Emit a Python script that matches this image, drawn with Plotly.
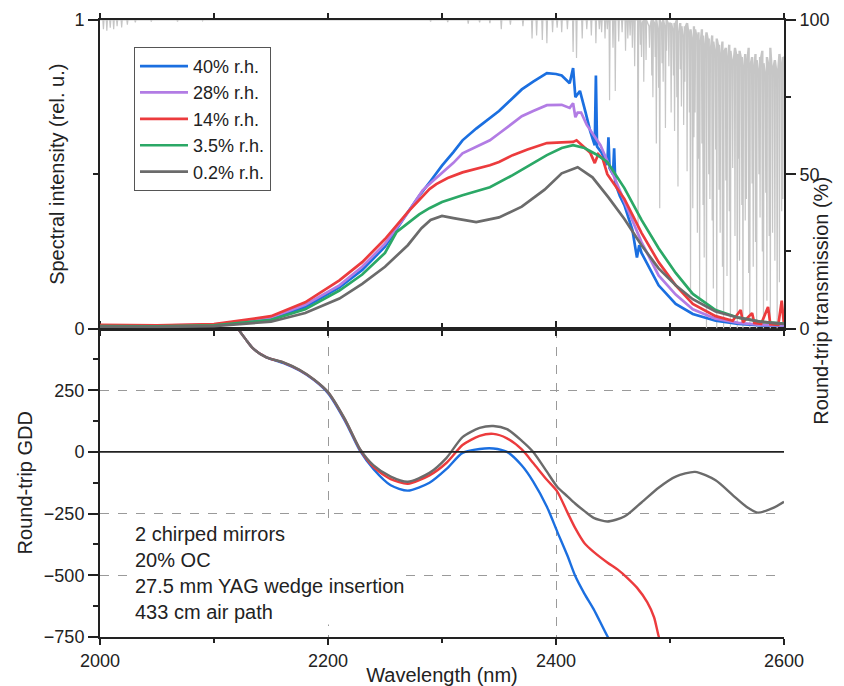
import plotly.graph_objects as go

# ---------------- data ----------------
labels = ["40% r.h.", "28% r.h.", "14% r.h.", "3.5% r.h.", "0.2% r.h."]
colors = ["#1b6fe0", "#b27ce4", "#ec3b3d", "#2ba866", "#6b6b6b"]

wl_blue = [2000, 2050, 2100, 2150, 2180, 2210, 2230, 2250, 2270, 2280, 2290, 2300, 2310, 2318, 2330, 2342, 2350,
           2360, 2370, 2380, 2392, 2400, 2405, 2412, 2415, 2417, 2421, 2426, 2430, 2434, 2435, 2436, 2440, 2445,
           2446, 2447, 2450, 2451, 2452, 2456, 2460, 2467, 2471, 2473, 2475, 2490, 2505, 2520, 2540, 2560, 2580, 2600]
int_blue = [0.010, 0.008, 0.012, 0.032, 0.070, 0.133, 0.190, 0.265, 0.377, 0.430, 0.478, 0.528, 0.572, 0.610, 0.648,
            0.682, 0.705, 0.740, 0.775, 0.800, 0.828, 0.825, 0.820, 0.795, 0.844, 0.750, 0.770, 0.700, 0.640, 0.594,
            0.820, 0.590, 0.570, 0.530, 0.620, 0.520, 0.500, 0.584, 0.470, 0.430, 0.400, 0.320, 0.230, 0.270, 0.245,
            0.140, 0.080, 0.047, 0.025, 0.015, 0.010, 0.010]

wl_purple = [2000, 2050, 2100, 2150, 2180, 2210, 2230, 2250, 2270, 2283, 2290, 2300, 2310, 2318, 2330, 2342, 2350,
             2360, 2370, 2380, 2392, 2405, 2412, 2415, 2417, 2419, 2422, 2427, 2439, 2450, 2460, 2475, 2490, 2505,
             2520, 2540, 2560, 2580, 2600]
int_purple = [0.010, 0.009, 0.013, 0.036, 0.077, 0.140, 0.200, 0.275, 0.375, 0.448, 0.472, 0.505, 0.537, 0.568, 0.590,
              0.610, 0.632, 0.660, 0.688, 0.705, 0.724, 0.725, 0.715, 0.730, 0.685, 0.700, 0.700, 0.660, 0.594, 0.500,
              0.410, 0.280, 0.172, 0.110, 0.062, 0.032, 0.018, 0.012, 0.010]

wl_red = [2000, 2050, 2100, 2150, 2180, 2210, 2230, 2250, 2270, 2280, 2289, 2295, 2305, 2318, 2330, 2342, 2350, 2362,
          2375, 2392, 2405, 2415, 2418, 2425, 2430, 2434, 2437, 2441, 2445, 2460, 2475, 2490, 2505, 2520, 2540, 2555,
          2562, 2564, 2572, 2574, 2580, 2586, 2588, 2595, 2598, 2600]
int_red = [0.012, 0.010, 0.014, 0.040, 0.085, 0.156, 0.215, 0.290, 0.377, 0.418, 0.452, 0.468, 0.488, 0.506, 0.518,
           0.529, 0.540, 0.562, 0.580, 0.601, 0.603, 0.605, 0.610, 0.588, 0.570, 0.536, 0.565, 0.550, 0.500, 0.420,
           0.310, 0.215, 0.140, 0.080, 0.040, 0.025, 0.060, 0.020, 0.050, 0.018, 0.015, 0.070, 0.014, 0.012, 0.090,
           0.012]

wl_green = [2000, 2050, 2100, 2150, 2180, 2210, 2230, 2250, 2260, 2270, 2280, 2289, 2300, 2318, 2330, 2342, 2362,
            2375, 2392, 2405, 2415, 2425, 2435, 2445, 2460, 2475, 2490, 2505, 2520, 2540, 2560, 2580, 2600]
int_green = [0.008, 0.007, 0.010, 0.028, 0.062, 0.123, 0.175, 0.245, 0.312, 0.342, 0.370, 0.390, 0.410, 0.432, 0.445,
             0.458, 0.497, 0.525, 0.562, 0.585, 0.594, 0.585, 0.565, 0.540, 0.455, 0.352, 0.260, 0.180, 0.112, 0.060,
             0.035, 0.022, 0.016]

wl_gray = [2000, 2050, 2100, 2150, 2180, 2210, 2230, 2250, 2270, 2282, 2290, 2300, 2310, 2330, 2350, 2370, 2390, 2405,
           2419, 2432, 2446, 2460, 2475, 2490, 2505, 2520, 2540, 2560, 2580, 2600]
int_gray = [0.006, 0.005, 0.008, 0.022, 0.050, 0.097, 0.145, 0.200, 0.270, 0.325, 0.352, 0.365, 0.358, 0.345, 0.360,
            0.395, 0.450, 0.503, 0.523, 0.490, 0.425, 0.355, 0.270, 0.195, 0.140, 0.095, 0.055, 0.035, 0.022, 0.015]

# atmospheric round-trip transmission: absorption lines (centre nm, minimum %, local top %)
line_wl = [2003, 2006, 2009, 2012, 2015, 2019, 2024, 2031, 2045, 2068, 2090,
           2290, 2305, 2323, 2333, 2342, 2352, 2360, 2371, 2379, 2383, 2388, 2392, 2397, 2401, 2405, 2410,
           2415, 2418, 2423, 2427, 2431,
           2435, 2438, 2440, 2443, 2445, 2447, 2450, 2452, 2455, 2458, 2461, 2463, 2465, 2467, 2469, 2472,
           2474, 2475, 2477, 2479, 2482, 2484, 2485, 2487, 2488, 2490, 2491, 2493, 2494, 2496, 2497, 2499,
           2501, 2503, 2504, 2506, 2507, 2509, 2510, 2512, 2513, 2515, 2517, 2518, 2520, 2521, 2522, 2524,
           2525, 2526, 2528, 2529, 2530, 2532, 2534, 2535, 2537, 2538, 2540, 2541, 2543, 2544, 2546, 2547,
           2549, 2550, 2552, 2553, 2555, 2557, 2559, 2560, 2561, 2563, 2564, 2566, 2567, 2569, 2570, 2572,
           2573, 2575, 2576, 2578, 2579, 2581, 2582, 2584, 2585, 2587, 2588, 2590, 2592, 2594, 2596, 2598, 2599]
line_min = [97, 96.5, 97.5, 97, 98, 97.6, 98.5, 99.2, 99.5, 99.5, 99.7,
            99.5, 99.3, 98.8, 99.2, 99, 97, 98.5, 98, 94, 95, 93.5, 92.5, 96, 97.5, 96, 97,
            89.6, 87.7, 94, 97, 95,
            92.5, 97, 96, 94, 97, 74, 91, 77, 93, 96, 90, 94, 95, 91, 85, 32,
            92, 88, 80, 87, 91, 82, 75, 88, 60, 78, 39, 86, 80, 65, 90, 85,
            70, 82, 64, 75, 46, 84, 72, 66, 80, 51, 70, 11, 39, 62, 70, 31,
            55, 9, 60, 40, 23, 0, 50, 42, 35, 13, 58, 0, 45, 31, 20, 0,
            48, 17, 38, 0, 52, 30, 0, 55, 22, 40, 0, 35, 42, 18, 0, 47,
            20, 28, 0, 50, 36, 25, 0, 44, 9, 30, 0, 31, 22, 0, 15, 38, 42]
line_top = [100] * 11 + [100] * 16 + [100] * 5 + \
           [100] * 16 + \
           [100, 99, 100, 100, 98, 100, 100, 99, 100, 97, 100, 99, 100, 98, 100, 99] + \
           [99, 97, 99, 100, 96, 99, 98, 95, 98, 99, 96, 97, 94, 98, 97, 95] + \
           [96, 93, 97, 95, 92, 96, 94, 91, 95, 93, 90, 94, 92, 89, 93, 90] + \
           [91, 88, 92, 90, 87, 91, 89, 86, 90, 88, 85, 89, 87, 91, 86, 88] + \
           [85, 89, 87, 84, 88, 90, 86, 83, 88, 86, 91, 85, 87, 84, 89, 86, 88]

# round-trip GDD (fs^2)
gdd_wl = [2115, 2121, 2128, 2134, 2146, 2161, 2175, 2188, 2200, 2215, 2228, 2240, 2255, 2270, 2289, 2304, 2318,
          2333, 2345, 2357, 2370, 2380, 2392, 2401, 2410, 2417, 2425, 2433, 2445]
gdd_blue = [560, 500, 455, 420, 383, 360, 330, 290, 238, 125, 5, -70, -135, -157, -125, -69, -4,
            12, 14, 0, -55, -120, -222, -322, -420, -504, -575, -637, -746]
gdd_red = [560, 500, 455, 420, 383, 362, 332, 292, 242, 130, 10, -62, -110, -129, -95, -44, 28,
           65, 73, 55, 10, -45, -113, -160, -245, -310, -370, -405, -448]
gdd_gray = [560, 500, 455, 420, 383, 363, 333, 293, 243, 132, 12, -55, -100, -121, -85, -24, 60,
            97, 105, 92, 45, 0, -80, -141, -180, -210, -240, -267, -282]
gdd_blue_tail_wl = [2452]
gdd_blue_tail = [-800]
gdd_red_tail_wl = [2455, 2462, 2471, 2480, 2486, 2490, 2494]
gdd_red_tail = [-480, -508, -550, -609, -670, -746, -800]
gdd_gray_tail_wl = [2460, 2475, 2490, 2505, 2522, 2540, 2555, 2567, 2577, 2590, 2600]
gdd_gray_tail = [-262, -205, -145, -100, -81, -115, -175, -222, -246, -228, -202]

note = "2 chirped mirrors<br>20% OC<br>27.5 mm YAG wedge insertion<br>433 cm air path"

# ---------------- figure ----------------
INK = "#222222"
FONT = "Liberation Sans, Arial, Helvetica, sans-serif"

# transmission polyline built from the line list
tx, ty = [2000], [100]
for w, m, t in zip(line_wl, line_min, line_top):
    tx += [w - 0.5, w, w + 0.5]
    ty += [t, m, t]
tx.append(2600)
ty.append(line_top[-1])

fig = go.Figure()
fig.add_trace(go.Scatter(x=tx, y=ty, xaxis="x2", yaxis="y", mode="lines",
                         line=dict(color="#c6c6c6", width=1.2), showlegend=False, hoverinfo="skip"))

spectra = [(wl_blue, int_blue), (wl_purple, int_purple), (wl_red, int_red), (wl_green, int_green),
           (wl_gray, int_gray)]
for (w, v), lab, c in zip(spectra, labels, colors):
    fig.add_trace(go.Scatter(x=w, y=v, xaxis="x2", yaxis="y2", mode="lines", name=lab,
                             line=dict(color=c, width=2.7)))

gdd_sets = [(gdd_wl + gdd_blue_tail_wl, gdd_blue + gdd_blue_tail, colors[0]),
            (gdd_wl + gdd_red_tail_wl, gdd_red + gdd_red_tail, colors[2]),
            (gdd_wl + gdd_gray_tail_wl, gdd_gray + gdd_gray_tail, colors[4])]
for w, v, c in gdd_sets:
    fig.add_trace(go.Scatter(x=w, y=v, xaxis="x", yaxis="y3", mode="lines", showlegend=False,
                             line=dict(color=c, width=2.4, shape="spline", smoothing=0.7)))

axis_common = dict(showline=True, linecolor=INK, linewidth=2, tickcolor=INK, tickwidth=1.5,
                   tickfont=dict(size=18, color=INK), zeroline=False, automargin=False)

# the page body adds an 8 px offset, so the figure is 8 px smaller and margins compensate
fig.update_layout(
    width=836, height=678,
    margin=dict(l=92, r=60, t=12, b=49),
    paper_bgcolor="white", plot_bgcolor="white",
    font=dict(family=FONT, color=INK, size=18),
    xaxis=dict(**axis_common, domain=[0, 1], anchor="y3", range=[2000, 2600], tick0=2000, dtick=200,
               ticks="outside", ticklen=6, mirror="ticks",
               minor=dict(dtick=100, ticklen=4, ticks="outside", tickcolor=INK, showgrid=False),
               showgrid=True, gridcolor="#9a9a9a", griddash="dash", gridwidth=1,
               title=dict(text="Wavelength (nm)", font=dict(size=20), standoff=1)),
    xaxis2=dict(**axis_common, domain=[0, 1], anchor="y", matches="x", range=[2000, 2600], tick0=2000,
                dtick=200, ticks="outside", ticklen=5, mirror="ticks", showticklabels=False,
                minor=dict(dtick=100, ticklen=5, ticks="outside", tickcolor=INK, showgrid=False),
                showgrid=False),
    yaxis=dict(**axis_common, domain=[0.5, 1], anchor="x2", side="right", range=[0, 100],
               tickvals=[0, 50, 100], ticks="outside", ticklen=10,
               minor=dict(tickvals=[25, 75], ticklen=5, ticks="outside", tickcolor=INK, showgrid=False),
               showgrid=False),
    yaxis2=dict(**axis_common, overlaying="y", anchor="x2", side="left", range=[0, 1],
                tickvals=[0, 1], ticktext=["0", "1"], ticks="outside", ticklen=10,
                minor=dict(tickvals=[0.5], ticklen=5, ticks="outside", tickcolor=INK, showgrid=False),
                showgrid=False,
                title=dict(text="Spectral intensity (rel. u.)", font=dict(size=20), standoff=4)),
    yaxis3=dict(**axis_common, domain=[0, 0.5], anchor="x", range=[-750, 500],
                tickvals=[-750, -500, -250, 0, 250], ticktext=["\u2212750", "\u2212500", "\u2212250", "0", "250"],
                ticks="outside", ticklen=10,
                minor=dict(tickvals=[-625, -375, -125, 125, 375], ticklen=5, ticks="outside",
                           tickcolor=INK, showgrid=False),
                showgrid=True, gridcolor="#9a9a9a", griddash="dash", gridwidth=1,
                title=dict(text="Round-trip GDD", font=dict(size=20), standoff=6)),
    yaxis4=dict(showline=True, linecolor=INK, linewidth=2, overlaying="y3", anchor="x", side="right",
                range=[-750, 500], tickvals=[-625, -500, -375, -250, -125, 0, 125, 250, 375],
                ticks="inside", ticklen=10, tickcolor=INK, tickwidth=1.5, showticklabels=False,
                showgrid=False, zeroline=False, automargin=False),
    legend=dict(x=0.0497, y=0.9565, xanchor="left", yanchor="top", bgcolor="white",
                bordercolor="#555555", borderwidth=1, font=dict(size=18, color=INK),
                itemwidth=48, tracegroupgap=0),
    showlegend=True,
)

# y = 0 line of the GDD panel
fig.add_shape(type="line", xref="x", yref="y3", x0=2000, x1=2600, y0=0, y1=0,
              line=dict(color=INK, width=1.6), layer="above")

fig.add_annotation(text=note, xref="x", yref="y3", x=2029, y=-280, xanchor="left", yanchor="top",
                   align="left", showarrow=False, bgcolor="white", font=dict(size=20, color=INK))
fig.add_annotation(text="Round-trip transmission (%)", xref="paper", yref="paper", x=1.073, y=0.749,
                   textangle=-90, showarrow=False, font=dict(size=20, color=INK))

fig.write_html("out.html")
